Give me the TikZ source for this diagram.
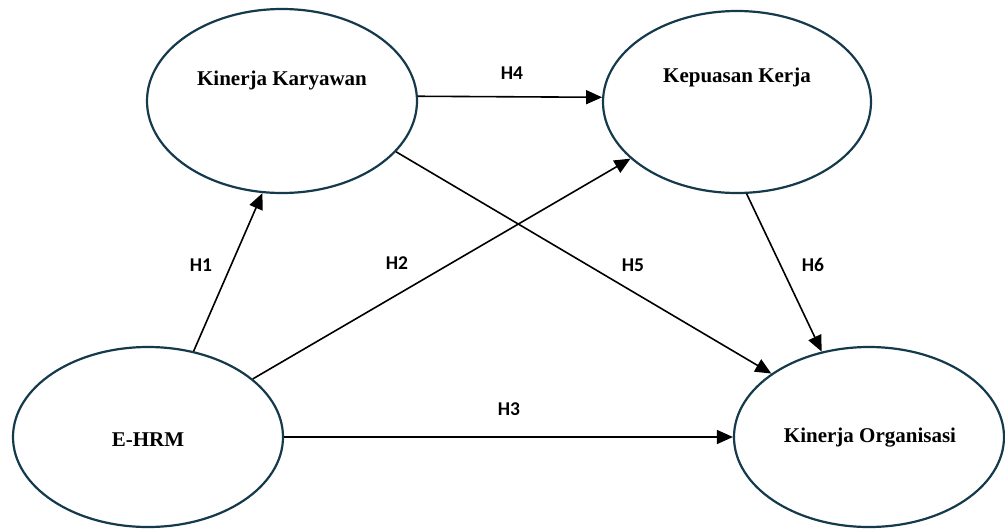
\documentclass[tikz,border=0pt]{standalone}
\usepackage{fontspec}
\setmainfont{Liberation Serif}
\newfontfamily\lblfont{Carlito}
\usetikzlibrary{shapes.geometric,arrows.meta}
\definecolor{ellcol}{HTML}{143A4C}
\begin{document}
\begin{tikzpicture}[x=1pt,y=-1pt,
  construct/.style={ellipse,draw=ellcol,line width=2.2pt,fill=white,inner sep=0pt},
  ctext/.style={font=\fontsize{21}{24}\selectfont\bfseries,inner sep=0pt},
  hlabel/.style={font=\lblfont\fontsize{19.5}{22}\selectfont\bfseries,inner sep=0pt},
  link/.style={draw=black,line width=1.6pt,-{Triangle[length=16pt,width=14pt]}}]
\useasboundingbox (0,0) rectangle (1005,528);
\fill[white] (0,0) rectangle (1005,528);

\node[construct,minimum width=270pt,minimum height=184pt] (kk) at (282,101) {};
\node[ctext] (kkt) at (282,80) {Kinerja Karyawan};

\node[construct,minimum width=268pt,minimum height=182pt] (kp) at (737,102) {};
\node[ctext] (kpt) at (737,77) {Kepuasan Kerja};

\node[construct,minimum width=270pt,minimum height=180pt] (eh) at (148,437) {};
\node[ctext] (eht) at (148,440) {E-HRM};

\node[construct,minimum width=270pt,minimum height=180pt] (ko) at (869,437) {};
\node[ctext] (kot) at (870,438) {Kinerja Organisasi};

\draw[link] (eh.62) -- (kk.-102);
\draw[link] (eh.29.6) -- (kp.-152.8);
\draw[link] (eh.0) -- (ko.180);
\draw[link] (kk.2) -- (kp.178.7);
\draw[link] (kk.-24.3) -- (ko.147.1);
\draw[link] (kp.-84.4) -- (ko.119.2);

\node[hlabel] (h1) at (201,265) {H1};
\node[hlabel] (h2) at (397,263) {H2};
\node[hlabel] (h3) at (509,409) {H3};
\node[hlabel] (h4) at (512,73) {H4};
\node[hlabel] (h5) at (633,265) {H5};
\node[hlabel] (h6) at (813,265) {H6};
\end{tikzpicture}
\end{document}
